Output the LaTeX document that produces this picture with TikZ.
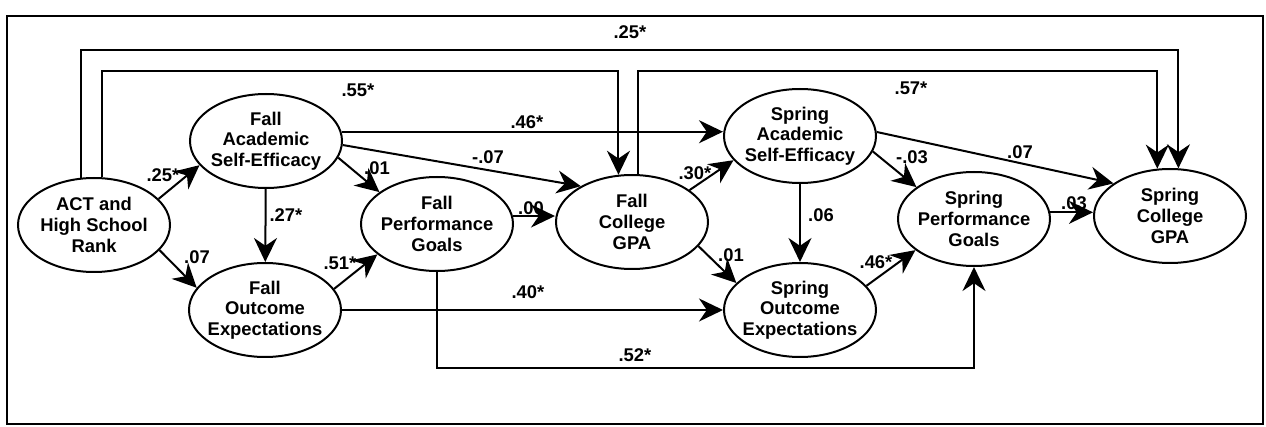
\documentclass[tikz,border=0pt]{standalone}
\usepackage{fontspec}
\setmainfont{Liberation Sans}
\usetikzlibrary{arrows.meta, shapes.geometric}
\newcommand{\pathfont}{\fontsize{9.2}{10.3}\selectfont\bfseries}
\tikzset{
  var/.style = {
    ellipse, draw, line width=1pt,
    minimum width=76pt, minimum height=47pt,
    inner xsep=-5pt, inner ysep=0pt,
    align=center, font=\pathfont
  },
  arr/.style  = {-{Stealth[length=12pt,width=11.5pt]}, line width=1pt},
  coef/.style = {font=\pathfont, inner sep=0pt},
  frm/.style  = {line width=1pt}
}

\begin{document}
\begin{tikzpicture}[x=0.5pt, y=-0.5pt]
  \useasboundingbox (0,0) rectangle (1266,427);
  %% Outer frame
  \draw[frm] (7,16) rectangle (1263,424);

  %% Rails for the long paths
  \coordinate (railA) at (0,50);
  \coordinate (railB) at (0,71);
  \coordinate (railC) at (0,368);

  %% Fall variables
  \node[var] (act)  at (94,225)  {ACT and\\High School\\Rank};
  \node[var] (fase) at (266,141) {Fall\\Academic\\Self-Efficacy};
  \node[var] (foe)  at (265,310) {Fall\\Outcome\\Expectations};
  \node[var] (fpg)  at (437,224) {Fall\\Performance\\Goals};
  \node[var] (fgpa) at (632,222) {Fall\\College\\GPA};

  %% Spring variables
  \node[var] (sase) at (800,136) {Spring\\Academic\\Self-Efficacy};
  \node[var] (soe)  at (800,310) {Spring\\Outcome\\Expectations};
  \node[var] (spg)  at (974,219) {Spring\\Performance\\Goals};
  \node[var] (sgpa) at (1170,216) {Spring\\College\\GPA};

  %% Long paths over the top and below
  \draw[arr] (act.105) -- (act.105 |- railA) -| (sgpa.80);
  \draw[arr] (act.80) -- (act.80 |- railB) -| (fgpa.106);
  \draw[arr] (fgpa.83) -- (fgpa.83 |- railB) -| (sgpa.105);
  \draw[arr] (fpg.south) -- (fpg.south |- railC) -| (spg.south);

  %% Fall paths
  \draw[arr] (act.22)   -- (fase.200);
  \draw[arr] (act.-21)  -- (foe.162);
  \draw[arr] (fase)     -- (foe);
  \draw[arr] (fase.-13) -- (fpg.151);
  \draw[arr] (fase.-3)  -- (fgpa.145);
  \draw[arr] (fase.7)   -- (fase.7 -| sase.west);
  \draw[arr] (foe.17)   -- (fpg.207);
  \draw[arr] (foe.east) -- (soe.west);
  \draw[arr] (fpg.6)    -- (fpg.6 -| fgpa.west);

  %% Spring paths
  \draw[arr] (fgpa.29)  -- (sase.200);
  \draw[arr] (fgpa.-20) -- (soe.157);
  \draw[arr] (sase)     -- (soe);
  \draw[arr] (sase.-12) -- (spg.151);
  \draw[arr] (sase.3)   -- (sgpa.150);
  \draw[arr] (soe.20)   -- (spg.208);
  \draw[arr] (spg.5)    -- (spg.5 -| sgpa.west);

  %% Path coefficients
  \node[coef] (cTop)   at (630,32)  {.25*};
  \node[coef] (cActF)  at (358,90)  {.55*};
  \node[coef] (cGpaS)  at (911,88)  {.57*};
  \node[coef] (cAseA)  at (527,122) {.46*};
  \node[coef] (cAseG)  at (488,157) {-.07};
  \node[coef] (cActA)  at (163,175) {.25*};
  \node[coef] (cAseP)  at (377,168) {.01};
  \node[coef] (cAseO)  at (286,215) {.27*};
  \node[coef] (cActO)  at (197,257) {.07};
  \node[coef] (cOeP)   at (340,263) {.51*};
  \node[coef] (cPgG)   at (531,208) {.00};
  \node[coef] (cGpaA)  at (695,173) {.30*};
  \node[coef] (cOeO)   at (528,292) {.40*};
  \node[coef] (cGpaO)  at (731,255) {.01};
  \node[coef] (cSaseO) at (821,215) {.06};
  \node[coef] (cSaseP) at (912,157) {-.03};
  \node[coef] (cSaseG) at (1020,152) {.07};
  \node[coef] (cSoeP)  at (876,262) {.46*};
  \node[coef] (cSpgG)  at (1074,203) {.03};
  \node[coef] (cPgP)   at (635,355) {.52*};
\end{tikzpicture}
\end{document}
